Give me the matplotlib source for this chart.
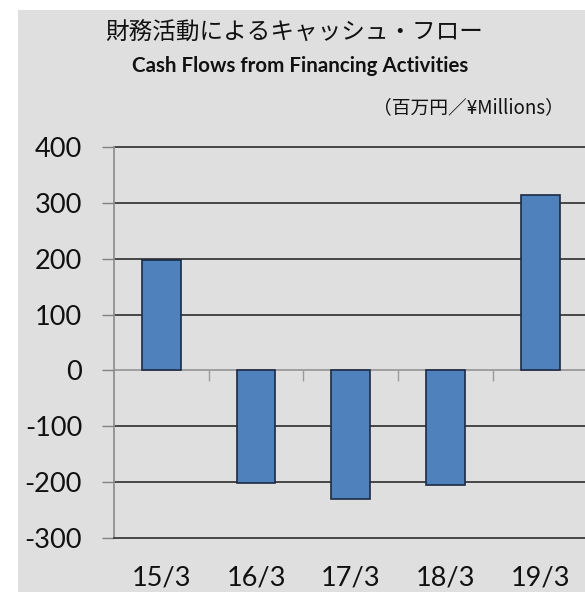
import numpy as np
import matplotlib.pyplot as plt
from matplotlib.patches import Rectangle

# data
years = ["15/3", "16/3", "17/3", "18/3", "19/3"]
cash_flows = [198, -201, -231, -206, 314]
y_ticks = [-300, -200, -100, 0, 100, 200, 300, 400]

title_jp = "財務活動によるキャッシュ・フロー"
title_en = "Cash Flows from Financing Activities"
unit_label = "（百万円／¥Millions）"

W, H = 585, 592
fig = plt.figure(figsize=(W / 100, H / 100), dpi=100)
fig.patch.set_facecolor("white")

# gray panel behind everything
fig.patches.append(Rectangle((18 / W, 0), 1, 1 - 10 / H, transform=fig.transFigure,
                             facecolor="#dfdfdf", edgecolor="none", zorder=-5))

ax = fig.add_axes([114 / W, 1 - 538 / H, (W - 114) / W, (538 - 147) / H])
ax.set_facecolor("none")
ax.set_zorder(2)

x = np.arange(len(years))
ax.bar(x, cash_flows, width=0.41, color="#4f81bd", edgecolor="#1c2a44", linewidth=1.2, zorder=3)

ax.set_ylim(-300, 400)
ax.set_xlim(-0.5, -0.5 + (W - 114) / 94.7)
ax.set_yticks(y_ticks)
ax.set_yticklabels([str(v) for v in y_ticks], fontsize=19.5, family="Lato", color="#111111")
ax.tick_params(axis="y", length=9, width=1, color="#808080", pad=14)

for v in y_ticks:
    if v not in (0, -300):
        ax.axhline(v, color="#3a3a3a", lw=1.3, zorder=1, clip_on=False)
ax.axhline(0, color="#9a9a9a", lw=1.3, zorder=2)

for s in ["top", "right"]:
    ax.spines[s].set_visible(False)
ax.spines["left"].set_color("#909090")
ax.spines["left"].set_linewidth(1.3)
ax.spines["bottom"].set_color("#3a3a3a")
ax.spines["bottom"].set_linewidth(1.3)

ax.set_xticks(x)
ax.set_xticklabels(years, fontsize=19.5, family="Lato", color="#111111")
ax.tick_params(axis="x", length=0, pad=20)

# category ticks hanging from the zero line
zero_frac = (0 - (-300)) / (400 - (-300))
sec = ax.secondary_xaxis(zero_frac)
sec.set_xticks(x[:-1] + 0.5)
sec.set_xticklabels([])
sec.tick_params(axis="x", length=8, width=1, color="#9a9a9a", direction="out")
sec.spines["bottom"].set_visible(False)

fig.text(294 / W, 1 - 32 / H, title_jp, ha="center", va="center", fontsize=17,
         family=["Noto Sans CJK JP", "DejaVu Sans"], color="#111111")
fig.text(300 / W, 1 - 66 / H, title_en, ha="center", va="center", fontsize=14.8,
         family="Lato", weight="bold", color="#111111")
fig.text(564 / W, 1 - 108 / H, unit_label, ha="right", va="center", fontsize=13.5,
         family=["Noto Sans CJK JP", "DejaVu Sans"], color="#111111")

fig.savefig("out.png", dpi=100)
